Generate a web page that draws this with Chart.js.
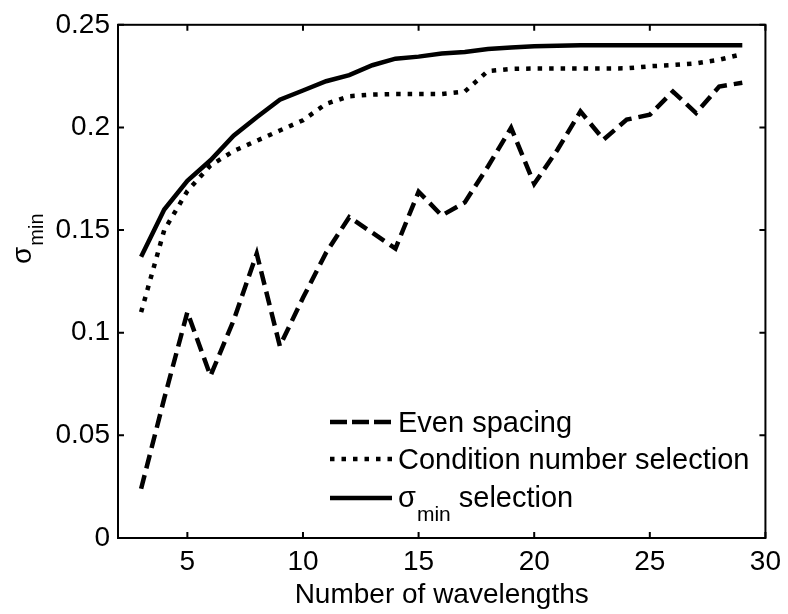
<!DOCTYPE html>
<html>
<head>
<meta charset="utf-8">
<script src="https://cdn.jsdelivr.net/npm/chart.js@4.4.1/dist/chart.umd.min.js"></script>
<style>
  html, body { margin: 0; padding: 0; background: #fff; }
  canvas { display: block; }
</style>
</head>
<body>
<canvas id="chart" width="788" height="614"></canvas>
<script>
// number of wavelengths
const wavelengths = [3, 4, 5, 6, 7, 8, 9, 10, 11, 12, 13, 14, 15, 16, 17, 18, 19, 20, 21, 22, 23, 24, 25, 26, 27, 28, 29];

const evenSpacing = [0.024, 0.068, 0.110, 0.079, 0.106, 0.1385, 0.0935, 0.117, 0.139, 0.1563, 0.1487, 0.141, 0.1687, 0.1571,
  0.1635, 0.181, 0.1998, 0.1725, 0.189, 0.2078, 0.1941, 0.2038, 0.2062, 0.2175, 0.207, 0.2199, 0.2218];

const conditionSel = [0.110, 0.150, 0.169, 0.1815, 0.1885, 0.1935, 0.1985, 0.2035, 0.2115, 0.2152, 0.216, 0.2163, 0.2163, 0.2163,
  0.2175, 0.2275, 0.2285, 0.2287, 0.2287, 0.2287, 0.2287, 0.2288, 0.2298, 0.2304, 0.2312, 0.233, 0.2357];

const sigmaSel = [0.137, 0.160, 0.174, 0.184, 0.196, 0.205, 0.2135, 0.218, 0.2225, 0.2255, 0.2303, 0.2335, 0.2345, 0.236,
  0.2368, 0.2382, 0.239, 0.2395, 0.2398, 0.240, 0.240, 0.240, 0.240, 0.240, 0.240, 0.240, 0.240];

const xTicks = [5, 10, 15, 20, 25, 30];
const yTicks = [0, 0.05, 0.1, 0.15, 0.2, 0.25];

const FONT = '"Liberation Sans", Arial, sans-serif';

function pts(ys) {
  return wavelengths.map((x, i) => ({x: x, y: ys[i]}));
}

// box around the plot and inward ticks on all sides (matlab look)
const boxPlugin = {
  id: 'box',
  afterDatasetsDraw(chart) {
    const ctx = chart.ctx;
    const a = chart.chartArea;
    const xs = chart.scales.x, ys = chart.scales.y;
    const len = 6;
    ctx.save();
    ctx.strokeStyle = '#000';
    ctx.lineWidth = 2;
    ctx.setLineDash([]);
    ctx.strokeRect(a.left, a.top, a.right - a.left, a.bottom - a.top);
    ctx.beginPath();
    xs.ticks.forEach(t => {
      const px = xs.getPixelForValue(t.value);
      ctx.moveTo(px, a.bottom); ctx.lineTo(px, a.bottom - len);
      ctx.moveTo(px, a.top); ctx.lineTo(px, a.top + len);
    });
    ys.ticks.forEach(t => {
      const py = ys.getPixelForValue(t.value);
      ctx.moveTo(a.left, py); ctx.lineTo(a.left + len, py);
      ctx.moveTo(a.right, py); ctx.lineTo(a.right - len, py);
    });
    ctx.stroke();
    ctx.restore();
  }
};

// sigma with "min" subscript
function drawSigmaMin(ctx, x, y, size, subDrop) {
  ctx.font = size + 'px ' + FONT;
  ctx.fillText('\u03c3', x, y);
  const w = ctx.measureText('\u03c3').width;
  ctx.font = Math.round(size * 0.72) + 'px ' + FONT;
  ctx.fillText('min', x + w + 1, y + subDrop);
  return x + w + 1 + ctx.measureText('min').width;
}

const legendDash = [[17, 5], [4.5, 7], []];

const labelsPlugin = {
  id: 'labels',
  afterDraw(chart) {
    const ctx = chart.ctx;
    ctx.save();
    ctx.fillStyle = '#000';
    ctx.textBaseline = 'alphabetic';
    ctx.textAlign = 'left';

    // y axis title, rotated
    ctx.save();
    ctx.translate(31, 264);
    ctx.rotate(-Math.PI / 2);
    drawSigmaMin(ctx, 0, 0, 28, 12);
    ctx.restore();

    // legend
    const sets = chart.data.datasets;
    const rows = [422, 459, 498];
    const x0 = 330, x1 = 392, tx = 398;
    sets.forEach((ds, i) => {
      const y = rows[i];
      ctx.save();
      ctx.strokeStyle = ds.borderColor;
      ctx.lineWidth = ds.borderWidth;
      ctx.lineCap = 'butt';
      ctx.setLineDash(legendDash[i]);
      ctx.beginPath();
      ctx.moveTo(x0, y);
      ctx.lineTo(x1, y);
      ctx.stroke();
      ctx.restore();
      ctx.font = '29px ' + FONT;
      if (i === 2) {
        const end = drawSigmaMin(ctx, tx, y + 9, 29, 14);
        ctx.font = '29px ' + FONT;
        ctx.fillText(' selection', end, y + 9);
      } else {
        ctx.fillText(ds.label, tx, y + 10);
      }
    });
    ctx.restore();
  }
};

new Chart(document.getElementById('chart'), {
  type: 'line',
  data: {
    datasets: [
      {
        label: 'Even spacing',
        data: pts(evenSpacing),
        borderColor: '#000',
        borderWidth: 4.5,
        borderDash: [14, 7],
        pointRadius: 0,
        tension: 0,
        fill: false
      },
      {
        label: 'Condition number selection',
        data: pts(conditionSel),
        borderColor: '#000',
        borderWidth: 4.5,
        borderDash: [4.5, 7],
        pointRadius: 0,
        tension: 0,
        fill: false
      },
      {
        label: '\u03c3min selection',
        data: pts(sigmaSel),
        borderColor: '#000',
        borderWidth: 4.5,
        pointRadius: 0,
        tension: 0,
        fill: false
      }
    ]
  },
  options: {
    responsive: false,
    animation: false,
    layout: { padding: { top: 21, right: 20, left: 0, bottom: 0 } },
    plugins: {
      legend: { display: false },
      tooltip: { enabled: false }
    },
    scales: {
      x: {
        type: 'linear',
        min: 2,
        max: 30,
        afterBuildTicks: s => { s.ticks = xTicks.map(v => ({value: v})); },
        afterFit: s => { s.height = 76; },
        grid: { display: false, drawTicks: false },
        border: { display: false },
        ticks: {
          color: '#000',
          padding: 7,
          maxRotation: 0,
          font: { family: FONT, size: 28 }
        },
        title: {
          display: true,
          text: 'Number of wavelengths',
          color: '#000',
          padding: { top: 0, bottom: 2 },
          font: { family: FONT, size: 28, lineHeight: 1.2 }
        }
      },
      y: {
        min: 0,
        max: 0.25,
        afterBuildTicks: s => { s.ticks = yTicks.map(v => ({value: v})); },
        afterFit: s => { s.width = 118; },
        grid: { display: false, drawTicks: false },
        border: { display: false },
        ticks: {
          color: '#000',
          padding: 8,
          font: { family: FONT, size: 28 },
          callback: v => String(+v.toFixed(2))
        }
      }
    }
  },
  plugins: [boxPlugin, labelsPlugin]
});
</script>
</body>
</html>
